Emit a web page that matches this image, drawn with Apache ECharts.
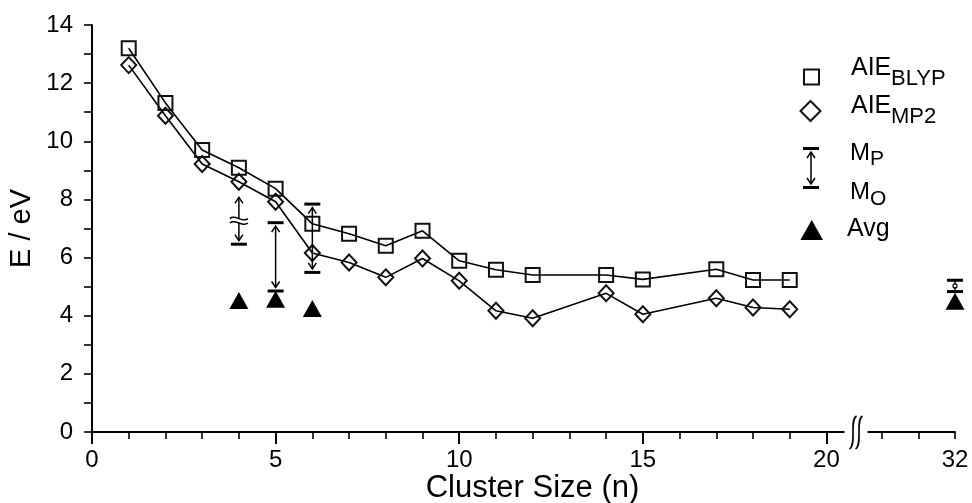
<!DOCTYPE html>
<html><head><meta charset="utf-8">
<script src="https://cdn.jsdelivr.net/npm/echarts@6/dist/echarts.min.js"></script>
<style>html,body{margin:0;padding:0;background:#fff}#c{width:972px;height:503px}</style>
</head><body><div id="c"></div>
<script>
// ---- data ----
const clusterSize = [1, 2, 3, 4, 5, 6, 7, 8, 9, 10, 11, 12, 14, 15, 17, 18, 19];
const aieBLYP = [13.20, 11.32, 9.70, 9.09, 8.37, 7.16, 6.82, 6.41, 6.92, 5.89, 5.58, 5.40, 5.40, 5.25, 5.60, 5.23, 5.23];
const aieMP2  = [12.62, 10.88, 9.22, 8.61, 7.92, 6.16, 5.83, 5.32, 5.97, 5.20, 4.17, 3.91, 4.77, 4.05, 4.60, 4.28, 4.22];
const avgSize = [4, 5, 6, 32];
const avgE    = [4.52, 4.57, 4.25, 4.50];
const mSize   = [4, 5, 6, 32];
const mP      = [null, 7.20, 7.84, 5.22];   // null: beyond the plotted range
const mO      = [6.46, 4.85, 5.49, 4.83];
const mPArrowTop = 8.07;                    // where the broken arrow for n=4 ends
const xMajorTicks = [0, 5, 10, 15, 20];
const xMinorTicks = [1,2,3,4,6,7,8,9,11,12,13,14,16,17,18,19,30,31,32];
const xLabels = [0, 5, 10, 15, 20, 32];
const breakShift = 8.5;                      // axis break between 20 and 30
const breakGap = [20.49, 21.12];

const toAxis = n => (n > 21 ? n - breakShift : n);
const fromAxis = v => Math.round(v > 21 ? v + breakShift : v);

const FONT = 'Liberation Sans';
const chart = echarts.init(document.getElementById('c'), null, {renderer: 'canvas'});

function renderErr(params, api) {
  const x = api.value(0), top = api.value(1), bot = api.value(2), capped = api.value(3);
  const pT = api.coord([x, top]), pB = api.coord([x, bot]);
  const cx = pT[0], yT = pT[1], yB = pB[1];
  const s = {stroke: '#000', lineWidth: 1.5, fill: null};
  const cap = {stroke: '#000', lineWidth: 3};
  const half = 8;
  const ch = [];
  if (capped) ch.push({type: 'line', shape: {x1: cx - half, y1: yT, x2: cx + half, y2: yT}, style: cap});
  ch.push({type: 'line', shape: {x1: cx - half, y1: yB, x2: cx + half, y2: yB}, style: cap});
  if (yB - yT > 25) {
    const tT = capped ? yT + 3.5 : yT, tB = yB - 3.5;
    ch.push({type: 'line', shape: {x1: cx, y1: tT, x2: cx, y2: tB}, style: s});
    ch.push({type: 'polyline', shape: {points: [[cx - 4, tT + 6], [cx, tT], [cx + 4, tT + 6]]}, style: s});
    ch.push({type: 'polyline', shape: {points: [[cx - 4, tB - 6], [cx, tB], [cx + 4, tB - 6]]}, style: s});
    if (!capped) {
      const m = (yT + yB) / 2;
      ch.push({type: 'rect', shape: {x: cx - 3, y: m - 2, width: 6, height: 4}, style: {fill: '#fff'}});
      [-2.2, 2.2].forEach(d => {
        ch.push({type: 'bezierCurve', shape: {x1: cx - 9, y1: m + d, cpx1: cx - 4, cpy1: m + d - 5, cpx2: cx + 4, cpy2: m + d + 5, x2: cx + 9, y2: m + d}, style: s});
      });
    }
  } else {
    const m = (yT + yB) / 2;
    ch.push({type: 'line', shape: {x1: cx, y1: yT, x2: cx, y2: yB}, style: s});
    ch.push({type: 'circle', shape: {cx: cx, cy: m, r: 2}, style: {fill: '#fff', stroke: '#000', lineWidth: 1.2}});
  }
  return {type: 'group', children: ch};
}

function renderBreak(params, api) {
  const p0 = api.coord([breakGap[0], 0]), p1 = api.coord([breakGap[1], 0]);
  const y = p0[1], c = (p0[0] + p1[0]) / 2;
  const s = {stroke: '#000', lineWidth: 1.6, fill: null};
  const ch = [{type: 'rect', shape: {x: p0[0], y: y - 3, width: p1[0] - p0[0], height: 6}, style: {fill: '#fff'}}];
  [-3, 3].forEach(d => {
    const x = c + d;
    ch.push({type: 'bezierCurve', shape: {x1: x + 3.5, y1: y - 16, cpx1: x - 4, cpy1: y - 12, cpx2: x + 4, cpy2: y + 12, x2: x - 3.5, y2: y + 17}, style: s});
  });
  return {type: 'group', children: ch};
}

const axisText = {color: '#000', fontFamily: FONT};
const option = {
  animation: false,
  textStyle: {fontFamily: FONT, color: '#000'},
  grid: {left: 92, right: 17, top: 25, bottom: 71, containLabel: false, outerBoundsMode: 'none'},
  xAxis: [
    {
      type: 'value', min: 0, max: toAxis(32), position: 'bottom',
      axisLine: {lineStyle: {color: '#000', width: 2}},
      axisTick: {customValues: xMajorTicks.map(toAxis), length: 12, lineStyle: {color: '#000', width: 2}},
      axisLabel: Object.assign({customValues: xLabels.map(toAxis), formatter: v => String(fromAxis(v)), fontSize: 24, margin: 16}, axisText),
      splitLine: {show: false},
      name: 'Cluster Size (n)', nameLocation: 'middle', nameGap: 41, nameMoveOverlap: false,
      nameTextStyle: Object.assign({fontSize: 31, padding: [0, 0, 0, 18]}, axisText)
    },
    {
      type: 'value', min: 0, max: toAxis(32), position: 'bottom',
      axisLine: {show: false},
      axisTick: {customValues: xMinorTicks.map(toAxis), length: 7, lineStyle: {color: '#000', width: 1.6}},
      axisLabel: {show: false},
      splitLine: {show: false}
    }
  ],
  yAxis: {
    type: 'value', min: 0, max: 14, interval: 2,
    axisLine: {show: true, lineStyle: {color: '#000', width: 2}},
    axisTick: {length: 8, lineStyle: {color: '#000', width: 1.6}},
    minorTick: {show: true, splitNumber: 2, length: 8, lineStyle: {color: '#000', width: 1.6}},
    axisLabel: Object.assign({fontSize: 24, margin: 19}, axisText),
    splitLine: {show: false}, minorSplitLine: {show: false},
    name: 'E / eV', nameLocation: 'middle', nameGap: 56, nameMoveOverlap: false,
    nameTextStyle: Object.assign({fontSize: 29}, axisText)
  },
  series: [
    {
      name: 'AIE BLYP', type: 'line', xAxisIndex: 0,
      data: clusterSize.map((n, i) => [toAxis(n), aieBLYP[i]]),
      symbol: 'rect', symbolSize: 14,
      itemStyle: {color: 'rgba(0,0,0,0)', borderColor: '#111', borderWidth: 2},
      lineStyle: {color: '#000', width: 1.6}, z: 3, emphasis: {disabled: true}
    },
    {
      name: 'AIE MP2', type: 'line', xAxisIndex: 0,
      data: clusterSize.map((n, i) => [toAxis(n), aieMP2[i]]),
      symbol: 'diamond', symbolSize: [15, 16],
      itemStyle: {color: 'rgba(0,0,0,0)', borderColor: '#111', borderWidth: 2},
      lineStyle: {color: '#000', width: 1.6}, z: 3, emphasis: {disabled: true}
    },
    {
      name: 'Avg', type: 'scatter', xAxisIndex: 0,
      data: avgSize.map((n, i) => [toAxis(n), avgE[i]]),
      symbol: 'triangle', symbolSize: [19, 17],
      itemStyle: {color: '#000', opacity: 1}, z: 4, emphasis: {disabled: true}
    },
    {
      name: 'M', type: 'custom', xAxisIndex: 0, clip: false, z: 5,
      encode: {x: 0, y: [1, 2]},
      data: mSize.map((n, i) => [toAxis(n), mP[i] == null ? mPArrowTop : mP[i], mO[i], mP[i] == null ? 0 : 1]),
      renderItem: renderErr
    },
    {
      name: 'break', type: 'custom', xAxisIndex: 0, clip: false, z: 10, silent: true,
      encode: {x: 0, y: 1},
      data: [[(breakGap[0] + breakGap[1]) / 2, 0]],
      renderItem: renderBreak
    }
  ],
  graphic: [
    {type: 'rect', shape: {x: 804, y: 69.5, width: 15, height: 15}, style: {fill: 'none', stroke: '#111', lineWidth: 2}},
    {type: 'text', style: {text: 'AIE', x: 851, y: 68, verticalAlign: 'middle', font: '25px "Liberation Sans"', fill: '#000'}},
    {type: 'text', style: {text: 'BLYP', x: 891, y: 79, verticalAlign: 'middle', font: '22px "Liberation Sans"', fill: '#000'}},
    {type: 'polygon', shape: {points: [[810.5, 101], [820.5, 111], [810.5, 121], [800.5, 111]]}, style: {fill: 'none', stroke: '#111', lineWidth: 2}},
    {type: 'text', style: {text: 'AIE', x: 851, y: 106, verticalAlign: 'middle', font: '25px "Liberation Sans"', fill: '#000'}},
    {type: 'text', style: {text: 'MP2', x: 891, y: 117, verticalAlign: 'middle', font: '22px "Liberation Sans"', fill: '#000'}},
    {type: 'line', shape: {x1: 803, y1: 148.5, x2: 819, y2: 148.5}, style: {stroke: '#000', lineWidth: 3}},
    {type: 'line', shape: {x1: 803, y1: 187.5, x2: 819, y2: 187.5}, style: {stroke: '#000', lineWidth: 3}},
    {type: 'line', shape: {x1: 811, y1: 152, x2: 811, y2: 184}, style: {stroke: '#000', lineWidth: 1.5}},
    {type: 'polyline', shape: {points: [[807, 158], [811, 152], [815, 158]]}, style: {stroke: '#000', lineWidth: 1.5, fill: null}},
    {type: 'polyline', shape: {points: [[807, 178], [811, 184], [815, 178]]}, style: {stroke: '#000', lineWidth: 1.5, fill: null}},
    {type: 'text', style: {text: 'M', x: 850, y: 153, verticalAlign: 'middle', font: '24px "Liberation Sans"', fill: '#000'}},
    {type: 'text', style: {text: 'P', x: 870, y: 159.5, verticalAlign: 'middle', font: '21px "Liberation Sans"', fill: '#000'}},
    {type: 'text', style: {text: 'M', x: 850, y: 192.5, verticalAlign: 'middle', font: '24px "Liberation Sans"', fill: '#000'}},
    {type: 'text', style: {text: 'O', x: 870, y: 199, verticalAlign: 'middle', font: '21px "Liberation Sans"', fill: '#000'}},
    {type: 'polygon', shape: {points: [[811.7, 220], [823, 240], [800.4, 240]]}, style: {fill: '#000'}},
    {type: 'text', style: {text: 'Avg', x: 847, y: 229.5, verticalAlign: 'middle', font: '25px "Liberation Sans"', fill: '#000'}}
  ]
};
chart.setOption(option);
</script>
</body></html>
